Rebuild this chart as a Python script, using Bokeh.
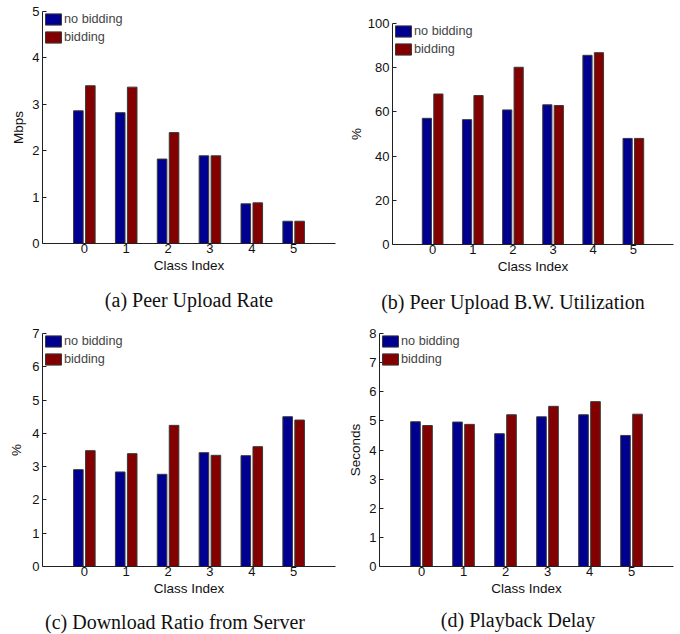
from bokeh.plotting import figure
from bokeh.models import Range1d, Label, Legend, LegendItem, FixedTicker, ColumnDataSource
from bokeh.layouts import row, column
from bokeh.embed import file_html
from bokeh.resources import INLINE

classes = [0, 1, 2, 3, 4, 5]

upload_no_bid = [2.86, 2.82, 1.82, 1.89, 0.855, 0.48]
upload_bid = [3.40, 3.37, 2.39, 1.89, 0.876, 0.48]

util_no_bid = [57.1, 56.5, 60.9, 63.2, 85.6, 48.0]
util_bid = [68.1, 67.4, 80.2, 62.9, 86.8, 48.0]

server_no_bid = [2.91, 2.84, 2.77, 3.42, 3.33, 4.50]
server_bid = [3.48, 3.39, 4.24, 3.34, 3.60, 4.40]

delay_no_bid = [4.97, 4.96, 4.56, 5.14, 5.21, 4.50]
delay_bid = [4.84, 4.88, 5.21, 5.50, 5.66, 5.23]

series_labels = ["no bidding", "bidding"]
x_label = "Class Index"
captions = ["(a)  Peer Upload Rate", "(b)  Peer Upload B.W. Utilization",
            "(c)  Download Ratio from Server", "(d)  Playback Delay"]

BLUE = "#000090"
RED = "#820000"
EDGE = "#3a3a3a"
SANS = "Liberation Sans"
SERIF = "Liberation Serif"

OFF = 0.143
BW = 0.229


def panel(no_bid, bid, ymax, ystep, ylabel, width, height,
          b_left, b_right, b_top, b_bottom, ylab_standoff):
    p = figure(width=width, height=height, output_backend="svg", toolbar_location=None,
               title=None,
               x_range=Range1d(-1, 6), y_range=Range1d(0, ymax),
               min_border_left=b_left, min_border_right=b_right,
               min_border_top=b_top, min_border_bottom=b_bottom)
    p.outline_line_color = None
    p.grid.visible = False
    src = ColumnDataSource(dict(
        xb=[c - OFF for c in classes], xr=[c + OFF for c in classes],
        nb=no_bid, b=bid))
    r1 = p.vbar(x="xb", top="nb", width=BW, source=src, fill_color=BLUE,
                line_color=EDGE, line_width=1)
    r2 = p.vbar(x="xr", top="b", width=BW, source=src, fill_color=RED,
                line_color=EDGE, line_width=1)
    for ax in (p.xaxis[0], p.yaxis[0]):
        ax.axis_line_color = "#202020"
        ax.major_tick_line_color = "#202020"
        ax.major_tick_in = 4
        ax.major_tick_out = 0
        ax.minor_tick_line_color = None
        ax.major_label_text_font = SANS
        ax.major_label_text_font_size = "13px"
        ax.major_label_text_color = "#111111"
        ax.axis_label_text_font = SANS
        ax.axis_label_text_font_size = "13.5px"
        ax.axis_label_text_font_style = "normal"
        ax.axis_label_text_color = "#111111"
    p.xaxis.ticker = FixedTicker(ticks=classes)
    p.xaxis.major_label_standoff = 0
    p.xaxis.axis_label = x_label
    p.xaxis.axis_label_standoff = 2
    p.xaxis.major_tick_line_color = None
    p.yaxis.ticker = FixedTicker(ticks=[i * ystep for i in range(int(round(ymax / ystep)) + 1)])
    p.yaxis.major_label_standoff = 3
    p.yaxis.axis_label = ylabel
    p.yaxis.axis_label_standoff = ylab_standoff
    leg = Legend(items=[LegendItem(label=series_labels[0], renderers=[r1]),
                        LegendItem(label=series_labels[1], renderers=[r2])],
                 location="top_left", margin=1, padding=4, spacing=4,
                 glyph_width=20, glyph_height=14, label_height=14,
                 label_standoff=1, label_text_font=SANS, label_text_font_size="12.7px",
                 border_line_color=None, background_fill_alpha=0)
    p.add_layout(leg)
    return p


def caption_fig(text, width, height, cx, cy):
    c = figure(width=width, height=height, output_backend="svg", toolbar_location=None,
               title=None, x_axis_location=None, y_axis_location=None,
               x_range=Range1d(0, 1), y_range=Range1d(0, 1),
               min_border=0)
    c.outline_line_color = None
    c.grid.visible = False
    c.add_layout(Label(x=cx, y=cy, x_units="canvas", y_units="canvas", text=text,
                       text_align="center", text_baseline="middle", text_font=SERIF,
                       text_font_size="20px", text_color="#111111"))
    return c


pa = panel(upload_no_bid, upload_bid, 5, 1, "Mbps", 340, 279, 42, 5, 11, 36, 3)
pb = panel(util_no_bid, util_bid, 100, 20, "%", 340, 280, 52, 7, 23, 36, 1)
pc = panel(server_no_bid, server_bid, 7, 1, "%", 340, 282, 42, 5, 13, 36, 5)
pd = panel(delay_no_bid, delay_bid, 8, 1, "Seconds", 340, 282, 39, 7, 13, 36, 3)

ca = caption_fig(captions[0], 340, 41, 191, 20)
cb = caption_fig(captions[1], 340, 40, 175, 21)
cc = caption_fig(captions[2], 340, 32, 177, 19)
cd = caption_fig(captions[3], 340, 32, 180, 17)

layout = column(
    row(column(column(pa), column(ca)), column(column(pb), column(cb))),
    row(column(column(pc), column(cc)), column(column(pd), column(cd))),
)

open("out.html", "w").write(file_html(layout, INLINE))
